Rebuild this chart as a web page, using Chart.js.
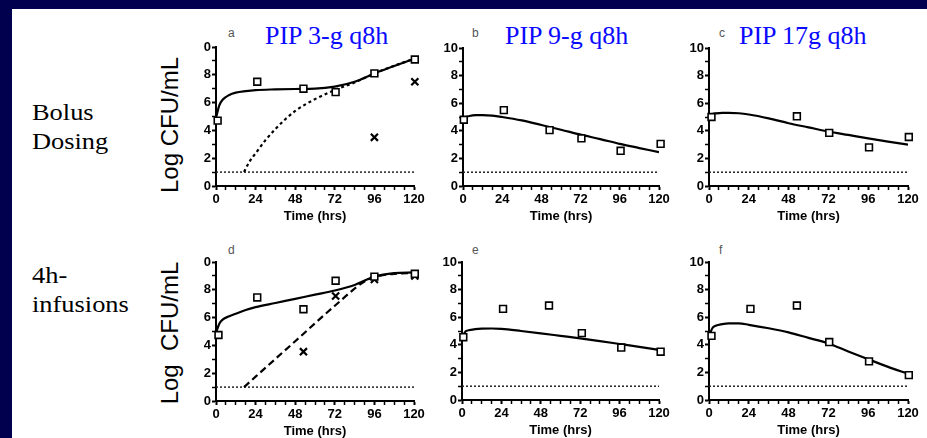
<!DOCTYPE html>
<html><head><meta charset="utf-8">
<script src="https://cdn.jsdelivr.net/npm/chart.js@4"></script>
<style>
html,body{margin:0;padding:0;width:927px;height:438px;overflow:hidden;background:#00004e;}
#sheet{position:absolute;left:12px;top:9px;width:915px;height:429px;background:#fff;}
canvas{position:absolute;}
.ttl{position:absolute;font-family:'Liberation Serif','Times New Roman',serif;font-size:26px;line-height:26px;color:#0a0aff;white-space:nowrap;}
.row{position:absolute;font-family:'Liberation Serif','Times New Roman',serif;font-size:24px;line-height:29px;color:#000;transform-origin:0 0;transform:scaleX(1.1);white-space:nowrap;}
.ytl{position:absolute;font-family:'Liberation Sans',Arial,sans-serif;font-size:24px;line-height:24px;color:#000;white-space:pre;transform:translate(-50%,-50%) rotate(-90deg);}
.let{position:absolute;font-family:'Liberation Sans',Arial,sans-serif;font-size:12px;line-height:12px;color:#555;}
</style></head><body>
<div id="sheet"></div>
<div class="row" style="left:32px;top:98px">Bolus<br>Dosing</div>
<div class="row" style="left:32px;top:261px">4h-<br>infusions</div>
<div class="ytl" style="left:170px;top:125px">Log CFU/mL</div>
<div class="ytl" style="left:170px;top:333px">Log  CFU/mL</div>
<div class="ttl" style="left:265px;top:23px">PIP 3-g q8h</div>
<div class="ttl" style="left:505px;top:23px">PIP 9-g q8h</div>
<div class="ttl" style="left:739px;top:23px">PIP 17g q8h</div>
<div class="let" style="left:228px;top:27px">a</div>
<div class="let" style="left:472px;top:27px">b</div>
<div class="let" style="left:719px;top:27px">c</div>
<div class="let" style="left:228px;top:244px">d</div>
<div class="let" style="left:472px;top:244px">e</div>
<div class="let" style="left:719px;top:244px">f</div>
<script>
// ---------- data ----------
const xTickValues = [0, 24, 48, 72, 96, 120];
const xTickLabels = ['0', '24', '48', '72', '96', '120'];
const yTickValues = [0, 2, 4, 6, 8, 10];
const yTickLabels = ['0', '2', '4', '6', '8', '10'];
const yTickLabelsCut = ['0', '2', '4', '6', '8', '0'];
const threshold = 1;

const modelTimes = [0, 2, 4, 8, 12, 18, 24, 36, 48, 60, 72, 84, 96, 108, 120];
const modelA = [4.9, 5.8, 6.2, 6.55, 6.72, 6.83, 6.9, 6.95, 6.98, 7.0, 7.15, 7.5, 8.1, 8.63, 9.15];
const modelB = [4.9, 5.0, 5.07, 5.13, 5.14, 5.1, 5.0, 4.75, 4.42, 4.08, 3.72, 3.4, 3.05, 2.75, 2.45];
const modelC = [5.15, 5.22, 5.26, 5.3, 5.3, 5.27, 5.18, 4.9, 4.55, 4.25, 3.95, 3.7, 3.45, 3.22, 3.0];
const modelD = [4.9, 5.55, 5.85, 6.1, 6.28, 6.55, 6.75, 7.05, 7.35, 7.65, 7.95, 8.35, 8.95, 9.2, 9.25];
const modelE = [4.5, 4.95, 5.05, 5.13, 5.17, 5.18, 5.15, 5.0, 4.83, 4.65, 4.47, 4.27, 4.06, 3.85, 3.63];
const modelF = [4.6, 5.2, 5.38, 5.5, 5.55, 5.55, 5.45, 5.2, 4.9, 4.5, 4.1, 3.52, 2.95, 2.4, 1.9];

const regrowTimesA = [17, 20, 24, 30, 36, 42, 48, 60, 72, 84, 96, 108, 120];
const regrowA = [1.0, 1.7, 2.35, 3.3, 4.1, 4.8, 5.4, 6.25, 6.9, 7.45, 8.1, 8.65, 9.15];
const regrowTimesD = [17, 24, 48, 72, 90, 96, 108, 120];
const regrowD = [1.0, 1.75, 4.3, 6.85, 8.6, 8.9, 9.15, 9.2];

const obsTimesA = [1, 25, 53, 72.5, 96, 120.5];
const obsA = [4.7, 7.5, 7.0, 6.75, 8.1, 9.1];
const resTimesA = [96, 120.5];
const resA = [3.5, 7.5];
const obsTimesB = [0.5, 25, 53, 72.5, 96.5, 121];
const obsB = [4.8, 5.5, 4.05, 3.45, 2.55, 3.05];
const obsTimesC = [1.5, 53, 72.5, 96.5, 120.5];
const obsC = [5.0, 5.05, 3.85, 2.8, 3.55];
const obsTimesD = [1.5, 25, 53, 72.5, 96, 120.5];
const obsD = [4.75, 7.45, 6.6, 8.65, 8.95, 9.15];
const resTimesD = [53, 72.5, 96, 120.5];
const resD = [3.55, 7.55, 8.75, 9.0];
const obsTimesE = [0.8, 25, 53, 73, 97, 121];
const obsE = [4.55, 6.6, 6.85, 4.85, 3.8, 3.5];
const obsTimesF = [1.5, 25, 53, 72.5, 96.5, 120.5];
const obsF = [4.65, 6.6, 6.85, 4.2, 2.8, 1.8];

// ---------- helpers ----------
const zip = (xs, ys) => xs.map((x, i) => ({x: x, y: ys[i]}));
Chart.defaults.font.family = "'Liberation Sans', Arial, sans-serif";
Chart.defaults.color = '#000';

function squares(xs, ys) {
  return {data: zip(xs, ys), showLine: false, pointStyle: 'rect', pointRadius: 4.8, pointHoverRadius: 4.8,
    pointBorderWidth: 1.6, pointBorderColor: '#000', pointBackgroundColor: '#fff', clip: false};
}
function crosses(xs, ys) {
  return {data: zip(xs, ys), showLine: false, pointStyle: 'crossRot', pointRadius: 5, pointHoverRadius: 5,
    pointBorderWidth: 2.2, pointBorderColor: '#000', clip: false};
}
function curve(xs, ys, dash) {
  return {data: zip(xs, ys), borderColor: '#000', borderWidth: 2.2, borderDash: dash || [], pointRadius: 0,
    cubicInterpolationMode: 'monotone', fill: false};
}
function limitLine() {
  return {data: zip([0, 120], [threshold, threshold]), borderColor: '#222', borderWidth: 1.5,
    borderDash: [2, 2], pointRadius: 0, fill: false};
}

const panels = [
  {left: 216, top: 47, w: 198, h: 139, yl: yTickLabelsCut,
    ds: [squares(obsTimesA, obsA), crosses(resTimesA, resA), curve(modelTimes, modelA), curve(regrowTimesA, regrowA, [3, 3]), limitLine()]},
  {left: 463, top: 48, w: 196, h: 138, yl: yTickLabels,
    ds: [squares(obsTimesB, obsB), curve(modelTimes, modelB), limitLine()]},
  {left: 709, top: 48, w: 199, h: 138, yl: yTickLabels,
    ds: [squares(obsTimesC, obsC), curve(modelTimes, modelC), limitLine()]},
  {left: 216, top: 262, w: 198, h: 139, yl: yTickLabelsCut,
    ds: [squares(obsTimesD, obsD), crosses(resTimesD, resD), curve(modelTimes, modelD), curve(regrowTimesD, regrowD, [7, 4]), limitLine()]},
  {left: 462, top: 262, w: 197, h: 138, yl: yTickLabels,
    ds: [squares(obsTimesE, obsE), curve(modelTimes, modelE), limitLine()]},
  {left: 709, top: 262, w: 199, h: 138, yl: yTickLabels,
    ds: [squares(obsTimesF, obsF), curve(modelTimes, modelF), limitLine()]}
];

const PL = 50, PT = 10, PR = 16, PB = 40;
panels.forEach(p => {
  const c = document.createElement('canvas');
  c.width = PL + p.w + PR; c.height = PT + p.h + PB;
  c.style.left = (p.left - PL) + 'px'; c.style.top = (p.top - PT) + 'px';
  document.body.appendChild(c);
  new Chart(c, {
    type: 'line',
    data: {datasets: p.ds},
    options: {
      responsive: false, animation: false, devicePixelRatio: 1,
      layout: {padding: {left: 0, top: PT, right: PR, bottom: 0}},
      plugins: {legend: {display: false}, tooltip: {enabled: false}},
      scales: {
        x: {type: 'linear', min: 0, max: 120,
          afterFit: s => { s.height = PB; },
          ticks: {stepSize: 6, autoSkip: false, maxRotation: 0, padding: 2,
            font: {size: 13, weight: 'bold'}, color: '#000',
            callback: v => { const i = xTickValues.indexOf(v); return i >= 0 ? xTickLabels[i] : ''; }},
          grid: {drawOnChartArea: false, drawTicks: true, tickLength: 4, tickColor: '#000',
            tickWidth: ctx => (ctx.tick && xTickValues.indexOf(ctx.tick.value) >= 0) ? 2 : 1.5},
          border: {display: true, color: '#000', width: 2},
          title: {display: true, text: 'Time (hrs)', font: {size: 13, weight: 'bold'}, color: '#000',
            padding: {top: 0, bottom: 2}}
        },
        y: {type: 'linear', min: 0, max: 10,
          afterFit: s => { s.width = PL; },
          ticks: {stepSize: 1, autoSkip: false, padding: 1,
            font: {size: 13, weight: 'bold'}, color: '#000',
            callback: v => { const i = yTickValues.indexOf(v); return i >= 0 ? p.yl[i] : ''; }},
          grid: {drawOnChartArea: false, drawTicks: true, tickLength: 4, tickColor: '#000',
            tickWidth: ctx => (ctx.tick && yTickValues.indexOf(ctx.tick.value) >= 0) ? 2 : 1.5},
          border: {display: true, color: '#000', width: 2}
        }
      }
    }
  });
});
</script>
</body></html>
